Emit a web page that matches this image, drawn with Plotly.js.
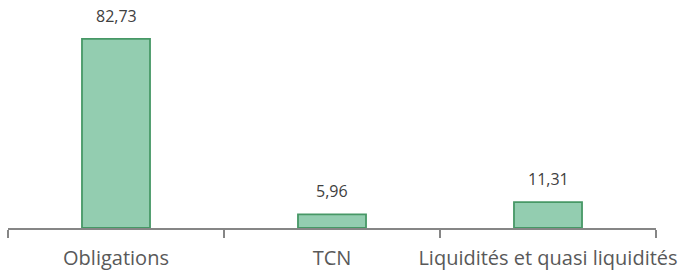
<!DOCTYPE html>
<html>
<head>
<meta charset="utf-8">
<script src="https://cdn.plot.ly/plotly-3.0.1.min.js"></script>
<style>html,body{margin:0;padding:0;background:#fff;}#chart{width:685px;height:274px;}</style>
</head>
<body>
<div id="chart"></div>
<script>
var categories = ["Obligations", "TCN", "Liquidités et quasi liquidités"];
var values = [82.73, 5.96, 11.31];
var valueLabels = ["82,73", "5,96", "11,31"];

var trace = {
  type: "bar",
  x: categories,
  y: values,
  width: 0.315,
  marker: {color: "#93cdb0", line: {color: "#479866", width: 1.8}},
  hoverinfo: "none"
};

var annotations = categories.map(function (c, i) {
  return {
    x: c, y: values[i], text: valueLabels[i], showarrow: false,
    yanchor: "bottom", yshift: 10,
    font: {family: "Open Sans, sans-serif", size: 16, color: "#404040"}
  };
});

var layout = {
  width: 685, height: 274,
  margin: {l: 8, r: 29, t: 0, b: 46},
  paper_bgcolor: "#fff", plot_bgcolor: "#fff",
  showlegend: false,
  xaxis: {
    type: "category", range: [-0.5, 2.5], tickson: "boundaries",
    ticks: "outside", ticklen: 8, tickcolor: "#868686", tickwidth: 1.5,
    showline: true, linecolor: "#868686", linewidth: 1.5,
    showgrid: false, zeroline: false, tickangle: 0,
    ticklabelstandoff: 11,
    tickfont: {family: "Open Sans, sans-serif", size: 20, color: "#595959"}
  },
  yaxis: {
    range: [0, 228 / 2.285], visible: false, showgrid: false, zeroline: false
  },
  annotations: annotations
};

Plotly.newPlot("chart", [trace], layout, {staticPlot: true, displayModeBar: false});
</script>
</body>
</html>
